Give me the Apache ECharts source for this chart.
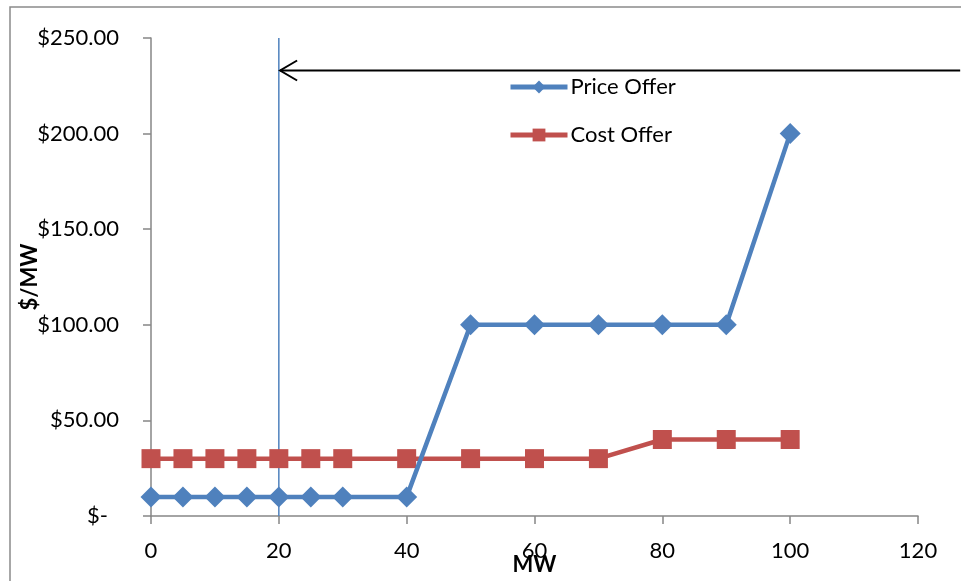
<!DOCTYPE html>
<html><head><meta charset="utf-8">
<script src="https://cdn.jsdelivr.net/npm/echarts@6/dist/echarts.min.js"></script>
<style>html,body{margin:0;padding:0;background:#fff}#c{width:961px;height:581px}</style>
</head><body><div id="c"></div>
<script>
const priceX = [0,5,10,15,20,25,30,40,50,60,70,80,90,100];
const priceY = [10,10,10,10,10,10,10,10,100,100,100,100,100,200];
const costX = [0,5,10,15,20,25,30,40,50,60,70,80,90,100];
const costY = [30,30,30,30,30,30,30,30,30,30,30,40,40,40];
const vLineX = [20,20];
const vLineY = [0,250];
const arrowX = [126.6,20.2];
const arrowY = [233,233];
const xTicks = [0,20,40,60,80,100,120];
const yTicks = [0,50,100,150,200,250];

const FONT = 'Lato';
const chart = echarts.init(document.getElementById('c'), null, {renderer:'canvas'});
const zip = (a,b)=>a.map((v,i)=>[v,b[i]]);
chart.setOption({
  backgroundColor:'#ffffff',
  animation:false,
  textStyle:{fontFamily:FONT},
  graphic:[{type:'rect',shape:{x:10,y:7,width:1000,height:1000},style:{fill:'none',stroke:'#8a8a8a',lineWidth:1.5},silent:true,z:-1}],
  grid:{left:151,right:43,top:38,bottom:65,containLabel:false,outerBoundsMode:'none'},
  legend:{
    orient:'vertical',left:508,top:76,padding:0,itemGap:26,itemWidth:57,itemHeight:16,
    textStyle:{fontSize:22,color:'#000',fontFamily:FONT,padding:[0,0,0,-2]},
    lineStyle:{width:5},
    data:['Price Offer','Cost Offer']
  },
  xAxis:{
    type:'value',min:0,max:120,interval:20,
    name:'MW',nameLocation:'middle',nameGap:38,nameMoveOverlap:false,
    nameTextStyle:{fontSize:22,fontWeight:'bold',color:'#000',fontFamily:FONT},
    axisLine:{show:true,lineStyle:{color:'#868686',width:1.5}},
    axisTick:{show:true,length:8,lineStyle:{color:'#868686',width:1.5}},
    axisLabel:{fontSize:22,color:'#000',margin:24,fontFamily:FONT,showMaxLabel:true},
    splitLine:{show:false}
  },
  yAxis:{
    type:'value',min:0,max:250,interval:50,
    name:'$/MW',nameLocation:'middle',nameGap:110,nameRotate:90,nameMoveOverlap:false,
    nameTextStyle:{fontSize:22,fontWeight:'bold',color:'#000',fontFamily:FONT},
    axisLine:{show:true,lineStyle:{color:'#868686',width:1.5}},
    axisTick:{show:true,length:8,lineStyle:{color:'#868686',width:1.5}},
    axisLabel:{fontSize:22,color:'#000',margin:32,fontFamily:FONT,
      formatter:v=> v===0 ? '{z|$-}' : '$'+v.toFixed(2),
      rich:{z:{fontSize:22,color:'#000',fontFamily:FONT,padding:[0,11,0,0]}}},
    splitLine:{show:false}
  },
  series:[
    {name:'vline',type:'line',data:zip(vLineX,vLineY),symbol:'none',silent:true,
      lineStyle:{color:'#4f81bd',width:1.5},z:1,clip:false},
    {name:'arrow',type:'custom',silent:true,clip:false,z:5,
      data:[[arrowX[0],arrowY[0],arrowX[1],arrowY[1]]],
      renderItem:(params,api)=>{
        const p0=api.coord([api.value(0),api.value(1)]);
        const p1=api.coord([api.value(2),api.value(3)]);
        return {type:'group',children:[
          {type:'line',shape:{x1:p0[0],y1:p0[1],x2:p1[0],y2:p1[1]},style:{stroke:'#000',lineWidth:2}},
          {type:'polyline',shape:{points:[[p1[0]+17,p1[1]-10],[p1[0],p1[1]],[p1[0]+17,p1[1]+10]]},style:{stroke:'#000',lineWidth:2,fill:'none'}}
        ]};
      }},
    {name:'Price Offer',type:'line',data:zip(priceX,priceY),symbol:'diamond',symbolSize:[21,21],
      itemStyle:{color:'#4f81bd'},lineStyle:{color:'#4f81bd',width:4.5},z:3},
    {name:'Cost Offer',type:'line',data:zip(costX,costY),symbol:'rect',symbolSize:[19,19],
      itemStyle:{color:'#c0504d'},lineStyle:{color:'#c0504d',width:4.5},z:2}
  ]
});
</script></body></html>
